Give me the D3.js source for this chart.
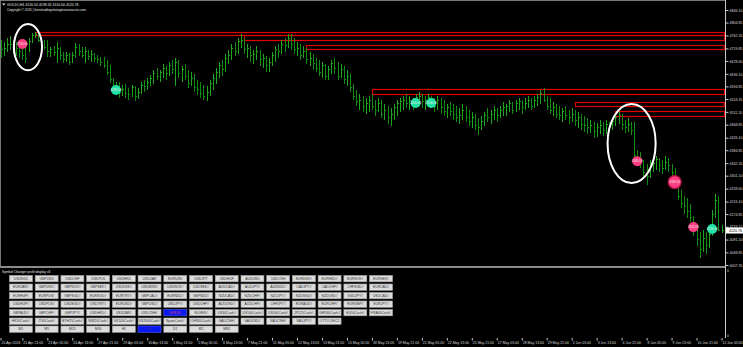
<!DOCTYPE html>
<html>
<head>
<meta charset="utf-8">
<script src="https://cdn.jsdelivr.net/npm/d3@7"></script>
<style>
  body { margin: 0; background: #000; }
  svg { display: block; }
  text { font-family: "Liberation Sans", Arial, sans-serif; }
</style>
</head>
<body>
<div id="chart"></div>
<script>
var svgWidth = 743;
var svgHeight = 347;

// ---- data ----
var symbolName = "GOLD#,H4";
var lastBarValues = ["4120.50", "4138.32", "4114.00", "4120.76"];
var copyrightText = "Copyright \u00a9 2025 | forextradingstrategiesresources.com";
var indicatorName = "Symbol Changer profit display v3";

var priceTicks = [4846.10, 4804.85, 4762.35, 4719.85, 4678.60, 4636.10, 4594.85,
    4553.35, 4511.10, 4468.85, 4426.10, 4384.85, 4342.35, 4301.10, 4258.60,
    4216.10, 4174.85, 4133.10, 4091.10, 4048.85, 4007.35];
var lastPrice = 4120.76;

var timeTicks = [
    [0, "20 Apr 2026"], [7, "21 Apr 21:00"], [15, "23 Apr 05:00"], [23, "24 Apr 13:00"],
    [31, "27 Apr 21:00"], [39, "29 Apr 05:00"], [47, "30 Apr 13:00"], [55, "1 May 21:00"],
    [63, "5 May 05:00"], [71, "6 May 13:00"], [79, "7 May 21:00"], [87, "11 May 05:00"],
    [95, "12 May 13:00"], [103, "13 May 21:00"], [111, "15 May 05:00"], [119, "18 May 13:00"],
    [127, "19 May 21:00"], [135, "21 May 05:00"], [143, "22 May 13:00"], [151, "25 May 21:00"],
    [159, "27 May 05:00"], [167, "28 May 13:00"], [175, "29 May 21:00"], [183, "2 Jun 05:00"],
    [191, "3 Jun 13:00"], [199, "4 Jun 21:00"], [207, "8 Jun 05:00"], [215, "9 Jun 13:00"],
    [223, "10 Jun 21:00"], [231, "12 Jun 05:00"]
];

// H4 bars: [open, high, low, close]
var h4Bars = [
    [4728,4747,4688,4715],[4715,4741,4695,4721],[4721,4754,4708,4731],[4731,4761,4715,4734],
    [4734,4747,4701,4728],[4728,4741,4695,4721],[4721,4747,4688,4708],[4708,4734,4682,4698],
    [4698,4721,4672,4688],[4715,4754,4708,4741],[4741,4770,4738,4761],[4761,4774,4754,4764],
    [4764,4767,4741,4747],[4747,4754,4731,4741],[4741,4747,4715,4724],[4724,4747,4692,4708],
    [4708,4724,4692,4715],[4715,4728,4695,4705],[4705,4741,4672,4721],[4721,4724,4682,4695],
    [4695,4708,4672,4682],[4682,4708,4675,4698],[4698,4705,4665,4675],[4675,4708,4672,4695],
    [4695,4738,4688,4724],[4724,4734,4695,4708],[4708,4724,4688,4698],[4698,4724,4672,4708],
    [4708,4715,4682,4692],[4692,4715,4675,4701],[4701,4705,4675,4688],[4688,4698,4672,4682],
    [4682,4692,4662,4675],[4675,4692,4655,4665],[4665,4682,4632,4642],[4642,4665,4606,4616],
    [4616,4622,4573,4590],[4590,4609,4567,4596],[4596,4609,4557,4576],[4576,4599,4563,4583],
    [4583,4603,4557,4570],[4570,4590,4550,4567],[4567,4599,4560,4590],[4590,4596,4547,4560],
    [4560,4590,4553,4576],[4576,4609,4570,4599],[4599,4616,4576,4596],[4596,4622,4583,4609],
    [4609,4632,4596,4622],[4622,4649,4603,4636],[4636,4655,4616,4629],[4629,4649,4609,4642],
    [4642,4669,4622,4655],[4655,4662,4616,4636],[4636,4675,4629,4665],[4665,4682,4636,4649],
    [4649,4688,4596,4675],[4675,4682,4622,4636],[4636,4662,4609,4649],[4649,4669,4616,4629],
    [4629,4649,4590,4603],[4603,4642,4596,4622],[4622,4636,4576,4590],[4590,4616,4567,4583],
    [4583,4609,4557,4570],[4570,4599,4550,4563],[4563,4596,4547,4576],[4576,4616,4563,4603],
    [4603,4636,4583,4622],[4622,4655,4603,4642],[4642,4675,4622,4662],[4662,4682,4629,4649],
    [4649,4701,4642,4688],[4688,4715,4669,4698],[4698,4734,4682,4721],[4721,4741,4695,4708],
    [4708,4754,4701,4741],[4741,4767,4721,4747],[4747,4754,4701,4715],[4715,4734,4688,4721],
    [4721,4728,4675,4695],[4695,4715,4669,4701],[4701,4728,4682,4708],[4708,4715,4662,4682],
    [4682,4701,4655,4688],[4688,4695,4642,4662],[4662,4688,4642,4675],[4675,4708,4662,4695],
    [4695,4728,4675,4715],[4715,4734,4688,4708],[4708,4747,4701,4734],[4734,4754,4708,4728],
    [4728,4767,4721,4754],[4754,4767,4715,4734],[4734,4754,4701,4715],[4715,4741,4695,4721],
    [4721,4734,4682,4695],[4695,4728,4688,4708],[4708,4721,4669,4682],[4682,4708,4662,4688],
    [4688,4701,4649,4669],[4669,4688,4642,4655],[4655,4682,4629,4642],[4642,4675,4622,4662],
    [4662,4669,4616,4629],[4629,4662,4616,4649],[4649,4682,4636,4669],[4669,4688,4636,4655],
    [4655,4675,4616,4629],[4629,4669,4622,4649],[4649,4662,4603,4616],[4616,4649,4596,4629],
    [4629,4636,4576,4590],[4590,4603,4550,4563],[4563,4583,4530,4544],[4544,4570,4517,4550],
    [4550,4563,4511,4530],[4530,4557,4504,4537],[4537,4563,4511,4550],[4550,4570,4517,4530],
    [4530,4550,4498,4517],[4517,4557,4511,4537],[4537,4550,4491,4504],[4504,4537,4484,4517],
    [4517,4530,4471,4491],[4491,4524,4465,4504],[4504,4537,4484,4524],[4524,4550,4498,4537],
    [4537,4557,4511,4544],[4544,4563,4517,4550],[4550,4570,4524,4537],[4537,4563,4517,4550],
    [4550,4557,4517,4537],[4537,4570,4530,4557],[4557,4576,4537,4563],[4563,4570,4524,4544],
    [4544,4563,4517,4550],[4550,4570,4530,4557],[4557,4563,4524,4537],[4537,4557,4511,4530],
    [4530,4563,4517,4550],[4550,4557,4504,4524],[4524,4550,4498,4511],[4511,4537,4491,4524],
    [4524,4544,4498,4511],[4511,4537,4484,4504],[4504,4530,4478,4491],[4491,4524,4471,4498],
    [4498,4537,4484,4517],[4517,4530,4478,4491],[4491,4517,4465,4478],[4478,4511,4458,4491],
    [4491,4504,4451,4465],[4465,4491,4435,4458],[4458,4498,4451,4478],[4478,4511,4465,4498],
    [4498,4524,4478,4491],[4491,4517,4471,4504],[4504,4530,4484,4517],[4517,4524,4478,4498],
    [4498,4530,4491,4517],[4517,4544,4498,4524],[4524,4537,4498,4530],[4530,4550,4511,4537],
    [4537,4544,4504,4517],[4517,4550,4511,4537],[4537,4557,4517,4544],[4544,4550,4504,4524],
    [4524,4557,4517,4537],[4537,4563,4524,4550],[4550,4557,4517,4530],[4530,4563,4524,4550],
    [4550,4570,4530,4557],[4557,4583,4537,4570],[4570,4590,4544,4550],[4550,4563,4517,4530],
    [4530,4557,4504,4517],[4517,4544,4498,4524],[4524,4537,4491,4504],[4504,4530,4484,4498],
    [4498,4524,4478,4511],[4511,4530,4484,4498],[4498,4517,4471,4491],[4491,4524,4478,4504],
    [4504,4517,4465,4484],[4484,4511,4458,4491],[4491,4504,4451,4471],[4471,4498,4445,4465],
    [4465,4491,4438,4458],[4458,4484,4442,4465],[4465,4478,4425,4445],[4445,4474,4428,4458],
    [4458,4484,4438,4465],[4465,4478,4432,4451],[4451,4484,4438,4471],[4471,4478,4445,4465],
    [4465,4491,4451,4478],[4478,4501,4465,4491],[4491,4511,4471,4498],[4498,4504,4451,4471],
    [4471,4484,4442,4458],[4458,4491,4445,4471],[4471,4478,4435,4451],[4451,4478,4359,4366],
    [4366,4386,4340,4359],[4359,4379,4326,4346],[4346,4353,4294,4313],[4313,4340,4271,4300],
    [4300,4353,4294,4333],[4333,4359,4313,4340],[4340,4366,4320,4353],[4353,4359,4313,4333],
    [4333,4353,4307,4326],[4326,4366,4320,4346],[4346,4359,4313,4333],[4333,4340,4287,4313],
    [4313,4326,4261,4274],[4274,4280,4221,4234],[4234,4254,4195,4208],[4208,4234,4175,4201],
    [4201,4228,4162,4182],[4182,4208,4149,4162],[4162,4169,4103,4122],[4122,4142,4070,4090],
    [4090,4116,4030,4057],[4057,4122,4050,4096],[4096,4116,4044,4070],[4070,4136,4063,4109],
    [4109,4188,4103,4175],[4175,4241,4162,4221],[4221,4234,4118,4122],[4120.50,4138.32,4114.00,4120.76]
];

// supply zones drawn on the chart: from bar, top price, bottom price
var zones = [
    [11, 4774, 4764],
    [78, 4764, 4748],
    [98, 4731, 4718],
    [119, 4586, 4570],
    [184, 4544, 4530],
    [197, 4515, 4498]
];

// arrow signals: bar, price, kind, count
var signals = [
    [7, 4734, "sell", 1],
    [37, 4583, "buy", 1],
    [133, 4540, "buy", 1],
    [138, 4540, "buy", 1],
    [204, 4349, "sell", 1],
    [216, 4280, "sell", 2],
    [222, 4132, "sell", 1],
    [228, 4126, "buy", 1]
];

// hand drawn ellipses: centre bar, centre price, half width in bars, half height in price
var circledAreas = [
    [8.8, 4724, 4.5, 76],
    [202.2, 4407, 7.7, 130]
];

var symbolRows = [
    ["USDSGD", "GBPUSD", "USDCHF", "USDPLN", "USDHKD", "USDZAR", "EURUSD", "USDJPY", "USDHUF", "AUDUSD", "USDCNH", "EURDKK#", "EURHKD#", "EURNOK#", "EURSEK#"],
    ["EURZAR#", "GBPDKK#", "GBPNOK#", "GBPSEK#", "USDDKK#", "USDMXN#", "USDNOK#", "USDSEK#", "AUDCAD#", "AUDJPY#", "AUDNZD#", "CADJPY#", "CADCHF#", "CHFSGD#", "EURCAD#"],
    ["EURHUF#", "EURPLN#", "GBPSGD#", "EURSGD#", "EURTRY#", "GBPCAD#", "EURNZD#", "GBPNZD#", "NZDCAD#", "NZDCHF#", "NZDJPY#", "NZDSGD#", "NZDUSD#", "SGDJPY#", "USDCAD#"],
    ["USDHUF#", "USDPLN#", "USDSGD#", "USDTRY#", "EURUSD#", "GBPUSD#", "USDJPY#", "USDCHF#", "AUDUSD#", "AUDCHF#", "CHFJPY#", "EURAUD#", "EURCHF#", "EURGBP#", "EURJPY#"],
    ["GBPAUD#", "GBPCHF#", "GBPJPY#", "USDHKD#", "USDZAR#", "USDCNH#", "GOLD#", "SILVER#", "US30Cash#", "US100Cash#", "US500Cash#", "JP225Cash#", "GER40Cash#", "EU50Cash#", "FRA40Cash#"],
    ["HK50Cash#", "IT40Cash#", "ETH25Cash#", "SWI20Cash#", "UK100Cash#", "US2000Cash#", "SpainCash#", "CHN50Cash#", "GAUCNH#", "GAUUSD#", "XAUCNH#", "XAUJPY#", "OTTO-DEC2"]
];
var timeframes = ["M1", "M5", "M15", "M30", "H1", "H4", "D1", "W1", "MN1"];
var activeSymbol = "GOLD#";
var activeTimeframe = "H4";

// ---- layout ----
var axisX = 725;
var mainBottom = 266;
var subTop = 268;
var subBottom = 338;

var svg = d3.select("#chart")
    .append("svg")
    .attr("width", svgWidth)
    .attr("height", svgHeight)
    .style("background", "#000");

var xScale = d3.scaleLinear()
    .domain([0, h4Bars.length - 1])
    .range([0.5, 721.5]);

var yScale = d3.scaleLinear()
    .domain([4007.35, 4846.10])
    .range([265, 10]);

var main = svg.append("g");

// frame
svg.append("line").attr("x1", 0.5).attr("x2", 0.5).attr("y1", 0).attr("y2", mainBottom)
    .attr("stroke", "#777");
svg.append("line").attr("x1", 0).attr("x2", axisX).attr("y1", 0.5).attr("y2", 0.5)
    .attr("stroke", "#777");
svg.append("rect").attr("x", 0).attr("y", mainBottom).attr("width", axisX + 1).attr("height", 2)
    .attr("fill", "#8a8a8a");
svg.append("line").attr("x1", axisX + 0.5).attr("x2", axisX + 0.5).attr("y1", 0).attr("y2", subBottom)
    .attr("stroke", "#c8c8c8");

// zones
main.selectAll(".zone")
    .data(zones)
    .enter()
    .append("rect")
    .attr("class", "zone")
    .attr("x", d => Math.round(xScale(d[0])) + 0.5)
    .attr("y", d => Math.round(yScale(d[1])) + 0.5)
    .attr("width", d => axisX - Math.round(xScale(d[0])) - 1)
    .attr("height", d => Math.max(1, Math.round(yScale(d[2]) - yScale(d[1]))))
    .attr("fill", "none")
    .attr("stroke", "#e00000")
    .attr("stroke-width", 1.2);

// OHLC bars
main.selectAll(".bar")
    .data(h4Bars)
    .enter()
    .append("path")
    .attr("class", "bar")
    .attr("shape-rendering", "crispEdges")
    .attr("stroke", d => d[3] >= d[0] ? "#1fa61f" : "#138c13")
    .attr("stroke-width", 1)
    .attr("fill", "none")
    .attr("d", function (d, i) {
        var x = Math.round(xScale(i)) + 0.5;
        return "M" + x + "," + yScale(d[1]) + "V" + yScale(d[2]) +
            "M" + (x - 1) + "," + yScale(d[0]) + "H" + x +
            "M" + x + "," + yScale(d[3]) + "H" + (x + 1);
    });

// ellipses
main.selectAll(".area")
    .data(circledAreas)
    .enter()
    .append("ellipse")
    .attr("cx", d => xScale(d[0]))
    .attr("cy", d => yScale(d[1]))
    .attr("rx", d => xScale(d[2]) - xScale(0))
    .attr("ry", d => yScale(d[1] - d[3]) - yScale(d[1]))
    .attr("fill", "none")
    .attr("stroke", "#fff")
    .attr("stroke-width", 2);

// signals
var sig = main.selectAll(".signal")
    .data(signals)
    .enter()
    .append("g")
    .attr("transform", d => `translate(${xScale(d[0])}, ${yScale(d[1])})`);

sig.append("circle")
    .attr("r", d => d[3] > 1 ? 6.5 : 5)
    .attr("fill", d => d[2] === "sell" ? "#ff3d82" : "#1ee3a6")
    .attr("stroke", d => d[3] > 1 ? "#b0103e" : "none")
    .attr("stroke-width", 1.2);

sig.append("text")
    .attr("text-anchor", "middle")
    .attr("dy", "1.1")
    .style("font-size", "3px")
    .style("fill", "#e8e8e8")
    .text(d => d[1].toFixed(2));

// price axis
var rightAxis = d3.axisRight(yScale)
    .tickValues(priceTicks)
    .tickSize(3)
    .tickFormat(d3.format(".2f"));

var yAxis = svg.append("g")
    .attr("transform", `translate(${axisX + 0.5}, 0)`)
    .call(rightAxis);
yAxis.select(".domain").remove();
yAxis.selectAll("line").attr("stroke", "#c8c8c8");
yAxis.selectAll("text")
    .attr("x", 4)
    .style("font-size", "3.6px")
    .style("font-family", "Liberation Sans, Arial, sans-serif")
    .style("fill", "#d8d8d8");

// last price tag
var tagY = yScale(lastPrice);
svg.append("rect")
    .attr("x", axisX + 1)
    .attr("y", tagY - 3)
    .attr("width", svgWidth - axisX - 1)
    .attr("height", 6)
    .attr("fill", "#fff");
svg.append("text")
    .attr("x", axisX + 4)
    .attr("y", tagY + 1.3)
    .style("font-size", "3.6px")
    .style("fill", "#000")
    .text(lastPrice.toFixed(2));

// header
svg.append("path")
    .attr("d", "M2,3.5H5.5L3.75,5.5Z")
    .attr("fill", "#ddd");
svg.append("text")
    .attr("x", 7)
    .attr("y", 5.6)
    .style("font-size", "3.5px")
    .style("fill", "#e8e8e8")
    .text(symbolName + "  " + lastBarValues.join(" "));
svg.append("text")
    .attr("x", 7)
    .attr("y", 11)
    .style("font-size", "3.2px")
    .style("fill", "#e8e8e8")
    .text(copyrightText);

// indicator sub window
svg.append("text")
    .attr("x", 2)
    .attr("y", 272.5)
    .style("font-size", "3.3px")
    .style("fill", "#e8e8e8")
    .text(indicatorName);

[271.5, 337].forEach(function (y) {
    svg.append("text")
        .attr("x", axisX + 2)
        .attr("y", y)
        .style("font-size", "3.4px")
        .style("fill", "#d8d8d8")
        .text("0");
});

var colScale = d3.scaleBand()
    .domain(d3.range(15))
    .range([9, 9 + 15 * 25.6])
    .paddingInner(0.07);

var rowScale = d3.scaleBand()
    .domain(d3.range(symbolRows.length))
    .range([275, 275 + symbolRows.length * 8.3])
    .paddingInner(0.14);

function drawButton(g, label, x, y, w, h, active) {
    g.append("rect")
        .attr("x", x + 0.5)
        .attr("y", y + 0.5)
        .attr("width", w - 1)
        .attr("height", h - 1)
        .attr("fill", active ? "#0a18f0" : "#dcdcdc")
        .attr("stroke", active ? "#5060ff" : "#a8a8a8")
        .attr("stroke-width", 0.6);
    g.append("text")
        .attr("x", x + w / 2)
        .attr("y", y + h / 2 + 1.2)
        .attr("text-anchor", "middle")
        .style("font-size", "3.4px")
        .style("fill", active ? (label === activeSymbol ? "#ff4a4a" : "#2a2aa0") : "#303030")
        .text(label);
}

var buttons = svg.append("g");
symbolRows.forEach(function (row, r) {
    row.forEach(function (name, c) {
        drawButton(buttons, name, colScale(c), rowScale(r), colScale.bandwidth(), rowScale.bandwidth(), name === activeSymbol);
    });
});
timeframes.forEach(function (tf, c) {
    drawButton(buttons, tf, colScale(c), 325.5, colScale.bandwidth(), 7.3, tf === activeTimeframe);
});

// time axis
var bottomAxis = d3.axisBottom(xScale)
    .tickValues(timeTicks.map(d => d[0]))
    .tickSize(2.5)
    .tickFormat(function (v) {
        return timeTicks.find(d => d[0] === v)[1];
    });

var xAxis = svg.append("g")
    .attr("transform", `translate(0, ${subBottom})`)
    .call(bottomAxis);
xAxis.select(".domain").remove();
xAxis.selectAll("line").attr("stroke", "#c8c8c8");
xAxis.selectAll("text")
    .attr("text-anchor", "start")
    .attr("x", 0.5)
    .attr("y", 4)
    .attr("dy", "0.71em")
    .style("font-size", "3.5px")
    .style("font-family", "Liberation Sans, Arial, sans-serif")
    .style("fill", "#d8d8d8");
</script>
</body>
</html>
